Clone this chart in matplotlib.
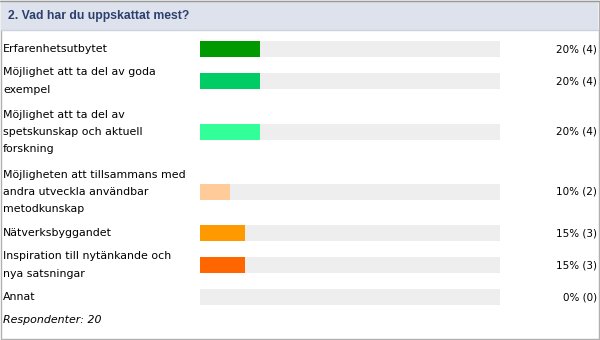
import matplotlib
matplotlib.use("Agg")
import matplotlib.pyplot as plt
from matplotlib.patches import Rectangle

title = "2. Vad har du uppskattat mest?"
labels = [
    "Erfarenhetsutbytet",
    "Möjlighet att ta del av goda\nexempel",
    "Möjlighet att ta del av\nspetskunskap och aktuell\nforskning",
    "Möjligheten att tillsammans med\nandra utveckla användbar\nmetodkunskap",
    "Nätverksbyggandet",
    "Inspiration till nytänkande och\nnya satsningar",
    "Annat",
]
percent = [20, 20, 20, 10, 15, 15, 0]
counts = [4, 4, 4, 2, 3, 3, 0]
colors = ["#009900", "#00cc66", "#33ff99", "#ffcc99", "#ff9900", "#ff6600", "#eeeeee"]
respondents = 20

# pixel layout
row_y = [49, 81, 132, 192, 233, 265, 297]
bar_x0, bar_w, bar_h = 200, 300, 16

fig = plt.figure(figsize=(6, 3.4), dpi=100)
ax = fig.add_axes([0, 0, 1, 1])
ax.set_xlim(0, 600)
ax.set_ylim(340, 0)
ax.axis("off")

# frame and header
ax.add_patch(Rectangle((0.5, 0.5), 598, 338, facecolor="white", edgecolor="#b0b0b0", lw=1))
ax.add_patch(Rectangle((1, 1), 597, 29, facecolor="#dde2ec", edgecolor="none"))
ax.plot([1, 598], [30, 30], color="#ccd2dd", lw=1)
ax.plot([0, 600], [0.5, 0.5], color="#999999", lw=1)
ax.text(8, 16, title, fontsize=8.8, family="Liberation Sans", fontweight="bold",
        color="#2c3f6e", va="center", ha="left")

ax.barh(row_y, [bar_w] * len(row_y), left=bar_x0, height=bar_h, color="#eeeeee")
ax.barh(row_y, [p / 100 * bar_w for p in percent], left=bar_x0, height=bar_h, color=colors)

for y, lab, p, c in zip(row_y, labels, percent, counts):
    ax.text(3, y, lab, fontsize=7.9, va="center", ha="left", color="black", linespacing=1.9)
    ax.text(597, y, f"{p}% ({c})", fontsize=7.5, va="center", ha="right", color="black")

ax.text(3, 320, f"Respondenter: {respondents}", fontsize=7.9, style="italic", va="center", ha="left")

fig.savefig("out.png", dpi=100)
